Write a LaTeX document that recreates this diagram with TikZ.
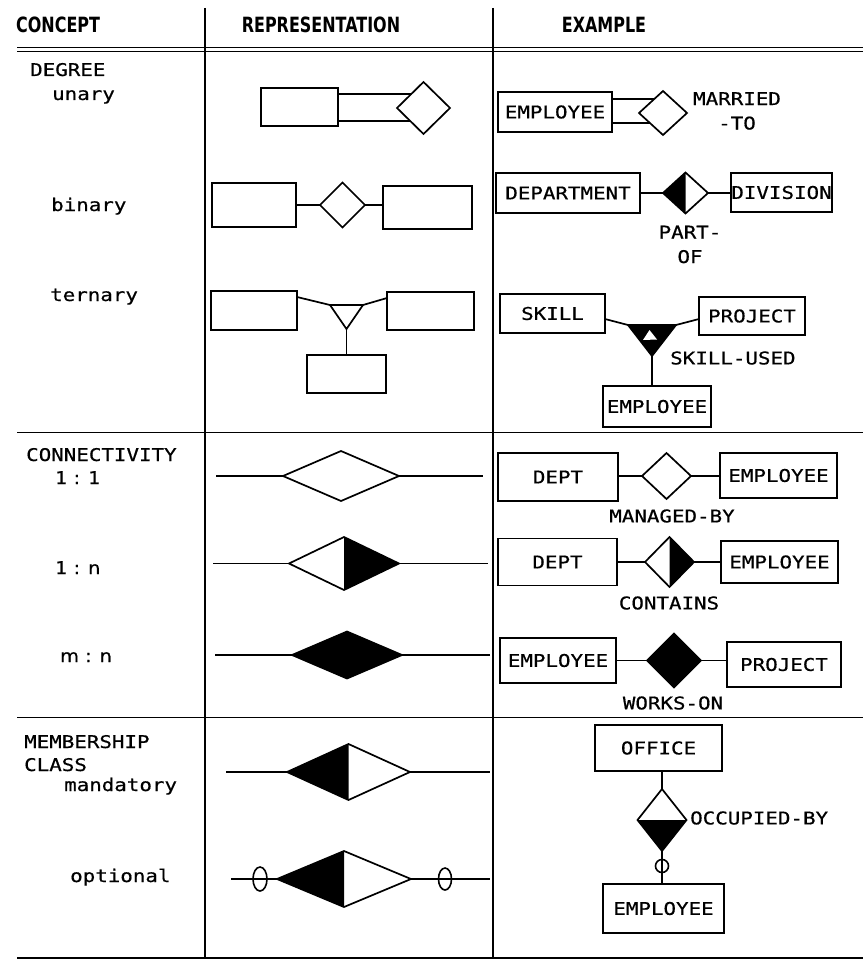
\documentclass[tikz,border=0pt]{standalone}
\usepackage{fontspec}
\setmainfont[FakeStretch=1.1,FakeBold=0.6]{DejaVu Sans}
\newfontfamily\hdfont[FakeStretch=0.76]{DejaVu Sans}
\newfontfamily\plot[FakeStretch=1.19,FakeBold=0.6]{DejaVu Sans Mono}
\usetikzlibrary{shapes.geometric,calc}
\begin{document}
\begin{tikzpicture}[x=1pt,y=-1pt,
  rule/.style={line width=1.8pt},
  conn/.style={line width=1.7pt},
  ent/.style={draw, line width=1.7pt, rectangle, inner sep=0pt, outer sep=0pt, font=\plot\fontsize{17.5}{20}\selectfont},
  rel/.style={draw, line width=1.7pt, diamond, inner sep=0pt, outer sep=0pt, line join=miter},
  oval/.style={draw, line width=1.6pt, ellipse, inner sep=0pt, outer sep=0pt},
  hdr/.style={inner sep=0pt, font={\hdfont\fontsize{21}{23}\selectfont\bfseries}},
  lbl/.style={inner sep=0pt, anchor=base west, font=\plot\fontsize{17.5}{20}\selectfont},
  ratio/.style={inner sep=0pt, anchor=base west, font=\fontsize{17.5}{20}\selectfont},
  elbl/.style={inner sep=0pt, align=center, font=\plot\fontsize{17.5}{24.5}\selectfont}]
\fill[white] (0,0) rectangle (863,960);
\useasboundingbox (0,0) rectangle (863,960);
% table rules
\draw[rule] (17,47.5) -- (863,47.5);
\draw[rule] (17,51.5) -- (863,51.5);
\draw[rule] (205,8) -- (205,958);
\draw[rule] (493,8) -- (493,958);
\draw[rule] (17,432.5) -- (863,432.5);
\draw[rule] (17,717.5) -- (863,717.5);
\draw[rule] (17,958) -- (863,958);
% headers
\node[hdr, anchor=west] (hc) at (16,25) {CONCEPT};
\node[hdr] (hr) at (321,25) {REPRESENTATION};
\node[hdr] (he) at (604,25) {EXAMPLE};
% concept column
\node[lbl] (cdeg) at (30,76) {DEGREE};
\node[lbl] (cun) at (52,100) {unary};
\node[lbl] (cbi) at (51,211) {binary};
\node[lbl] (cter) at (50,301) {ternary};
\node[lbl] (ccon) at (26,461) {CONNECTIVITY};
\node[ratio] (c11) at (55,484) {1 : 1};
\node[ratio] (c1n) at (55,574) {1 : n};
\node[ratio] (cmn) at (60,662) {m : n};
\node[lbl] (cmem) at (24,748) {MEMBERSHIP};
\node[lbl] (ccls) at (24,771) {CLASS};
\node[lbl] (cman) at (64,791) {mandatory};
\node[lbl] (copt) at (70,882) {optional};
% ---------- representation: degree
\node[ent, minimum width=77, minimum height=38] (ru) at (299.5,107) {};
\node[rel, minimum width=53, minimum height=52] (rud) at (423.5,108) {};
\draw[conn] (ru.east |- 0,94) -- ($(rud.west)!0.54!(rud.north)$);
\draw[conn] (ru.east |- 0,121) -- ($(rud.west)!0.5!(rud.south)$);
\node[ent, minimum width=84, minimum height=44] (rb1) at (254,205) {};
\node[rel, minimum width=45, minimum height=45] (rbd) at (342.5,205) {};
\node[ent, minimum width=89, minimum height=43] (rb2) at (427.5,207.5) {};
\draw[conn] (rb1.east) -- (rbd.west);
\draw[conn] (rbd.east) -- (rbd.east -| rb2.west);
\node[ent, minimum width=86, minimum height=39] (rt1) at (254,310.5) {};
\node[ent, minimum width=87, minimum height=38] (rt2) at (430.5,311) {};
\node[ent, minimum width=79, minimum height=38] (rt3) at (346.5,374) {};
\coordinate (rtl) at (330,305);
\coordinate (rtr) at (363,305);
\coordinate (rta) at (346.5,329);
\draw[conn, line join=miter] (rtl) -- (rtr) -- (rta) -- cycle;
\draw[conn] ($(rt1.north east)+(0,6)$) -- (rtl);
\draw[conn] (rtr) -- ($(rt2.north west)+(0,6)$);
\draw[conn] (rta) -- (rta |- rt3.north);
% ---------- representation: connectivity
\coordinate (rc1a) at (216,476);
\coordinate (rc1b) at (483,476);
\node[rel, minimum width=116, minimum height=50] (rc1) at (341,476) {};
\draw[conn] (rc1a) -- (rc1.west);
\draw[conn] (rc1.east) -- (rc1b);
\coordinate (rc2a) at (213,563.5);
\coordinate (rc2b) at (488,563.5);
\node[rel, minimum width=110, minimum height=53] (rc2) at (344,563.5) {};
\fill (rc2.north) -- (rc2.east) -- (rc2.south) -- cycle;
\draw[conn] (rc2a) -- (rc2.west);
\draw[conn] (rc2.east) -- (rc2b);
\coordinate (rc3a) at (215,655);
\coordinate (rc3b) at (490,655);
\node[rel, fill=black, minimum width=110, minimum height=47] (rc3) at (347,655) {};
\draw[conn] (rc3a) -- (rc3.west);
\draw[conn] (rc3.east) -- (rc3b);
% ---------- representation: membership
\coordinate (rm1a) at (226,772);
\coordinate (rm1b) at (490,772);
\node[rel, minimum width=123, minimum height=56] (rm1) at (348.5,772) {};
\fill (rm1.north) -- (rm1.west) -- (rm1.south) -- cycle;
\draw[conn] (rm1a) -- (rm1.west);
\draw[conn] (rm1.east) -- (rm1b);
\coordinate (rm2a) at (231,879);
\coordinate (rm2b) at (490,879);
\node[rel, minimum width=134, minimum height=56] (rm2) at (344,879) {};
\fill (rm2.north) -- (rm2.west) -- (rm2.south) -- cycle;
\draw[conn] (rm2a) -- (rm2.west);
\draw[conn] (rm2.east) -- (rm2b);
\node[oval, minimum width=14, minimum height=24] (ro1) at (260,879) {};
\node[oval, minimum width=13, minimum height=22] (ro2) at (445,879) {};
% ---------- example: degree
\node[ent, minimum width=114, minimum height=40] (e1) at (555,112) {EMPLOYEE};
\node[rel, minimum width=48, minimum height=44] (ed1) at (663,113) {};
\draw[conn] (e1.east |- 0,99) -- ($(ed1.west)!0.636!(ed1.north)$);
\draw[conn] (e1.east |- 0,123) -- ($(ed1.west)!0.455!(ed1.south)$);
\node[elbl] (lmar) at (737,111) {MARRIED\\-TO};
\node[ent, minimum width=144, minimum height=40] (edep) at (568,193) {DEPARTMENT};
\node[rel, minimum width=45, minimum height=41] (ed2) at (685.5,193) {};
\fill (ed2.north) -- (ed2.west) -- (ed2.south) -- cycle;
\node[ent, minimum width=101, minimum height=39] (ediv) at (781.5,192.5) {DIVISION};
\draw[conn] (edep.east) -- (ed2.west);
\draw[conn] (ed2.east) -- (ed2.east -| ediv.west);
\node[elbl] (lpart) at (690,244.5) {PART-\\OF};
\node[ent, minimum width=105, minimum height=39] (eskill) at (552.5,313.5) {SKILL};
\node[ent, minimum width=106, minimum height=38] (eproj) at (752,316) {PROJECT};
\node[ent, minimum width=108, minimum height=41] (eemp3) at (657,406.5) {EMPLOYEE};
\coordinate (etl) at (628,325);
\coordinate (etr) at (676,325);
\coordinate (eta) at (652,356);
\filldraw[conn, line join=miter] (etl) -- (etr) -- (eta) -- cycle;
\fill[white] (649.5,330) -- (657,339.5) -- (643,340) -- cycle;
\draw[conn] ($(eskill.north east)+(0,25)$) -- (etl);
\draw[conn] (etr) -- ($(eproj.north west)+(0,22)$);
\draw[conn] (eta) -- (eta |- eemp3.north);
\node[lbl, anchor=west] (lskill) at (670,358) {SKILL-USED};
% ---------- example: connectivity
\node[ent, minimum width=120, minimum height=48] (edept1) at (558,477) {DEPT};
\node[rel, minimum width=49, minimum height=46] (ed4) at (666.5,476) {};
\node[ent, minimum width=117, minimum height=45] (eemp4) at (778.5,475.5) {EMPLOYEE};
\draw[conn] (edept1.east |- ed4.west) -- (ed4.west);
\draw[conn] (ed4.east) -- (ed4.east -| eemp4.west);
\node[elbl] (lman) at (672,516) {MANAGED-BY};
\node[ent, minimum width=119, minimum height=47] (edept2) at (557.5,562) {DEPT};
\node[rel, minimum width=49, minimum height=50] (ed5) at (669.5,562) {};
\fill (ed5.north) -- (ed5.east) -- (ed5.south) -- cycle;
\node[ent, minimum width=117, minimum height=42] (eemp5) at (779.5,562) {EMPLOYEE};
\draw[conn] (edept2.east) -- (ed5.west);
\draw[conn] (ed5.east) -- (eemp5.west);
\node[elbl] (lcon) at (669,603) {CONTAINS};
\node[ent, minimum width=116, minimum height=45] (eemp6) at (558,660.5) {EMPLOYEE};
\node[rel, fill=black, minimum width=54, minimum height=54] (ed6) at (674,660.5) {};
\node[ent, minimum width=114, minimum height=45] (eproj2) at (784,664.5) {PROJECT};
\draw[conn] (eemp6.east) -- (ed6.west);
\draw[conn] (ed6.east) -- (ed6.east -| eproj2.west);
\node[elbl] (lwork) at (673,703) {WORKS-ON};
% ---------- example: membership
\node[ent, minimum width=127, minimum height=46] (eoff) at (658.5,748) {OFFICE};
\node[rel, minimum width=49, minimum height=62] (ed7) at (662,820) {};
\fill (ed7.west) -- (ed7.south) -- (ed7.east) -- cycle;
\node[ent, minimum width=121, minimum height=49] (eemp7) at (663.5,908.5) {EMPLOYEE};
\draw[conn] (ed7.north |- eoff.south) -- (ed7.north);
\draw[conn] (ed7.south) -- (ed7.south |- eemp7.north);
\node[oval, minimum width=13, minimum height=13] (eo1) at ($(ed7.south)+(0,15)$) {};
\node[lbl, anchor=west] (locc) at (690,818) {OCCUPIED-BY};
\end{tikzpicture}
\end{document}
